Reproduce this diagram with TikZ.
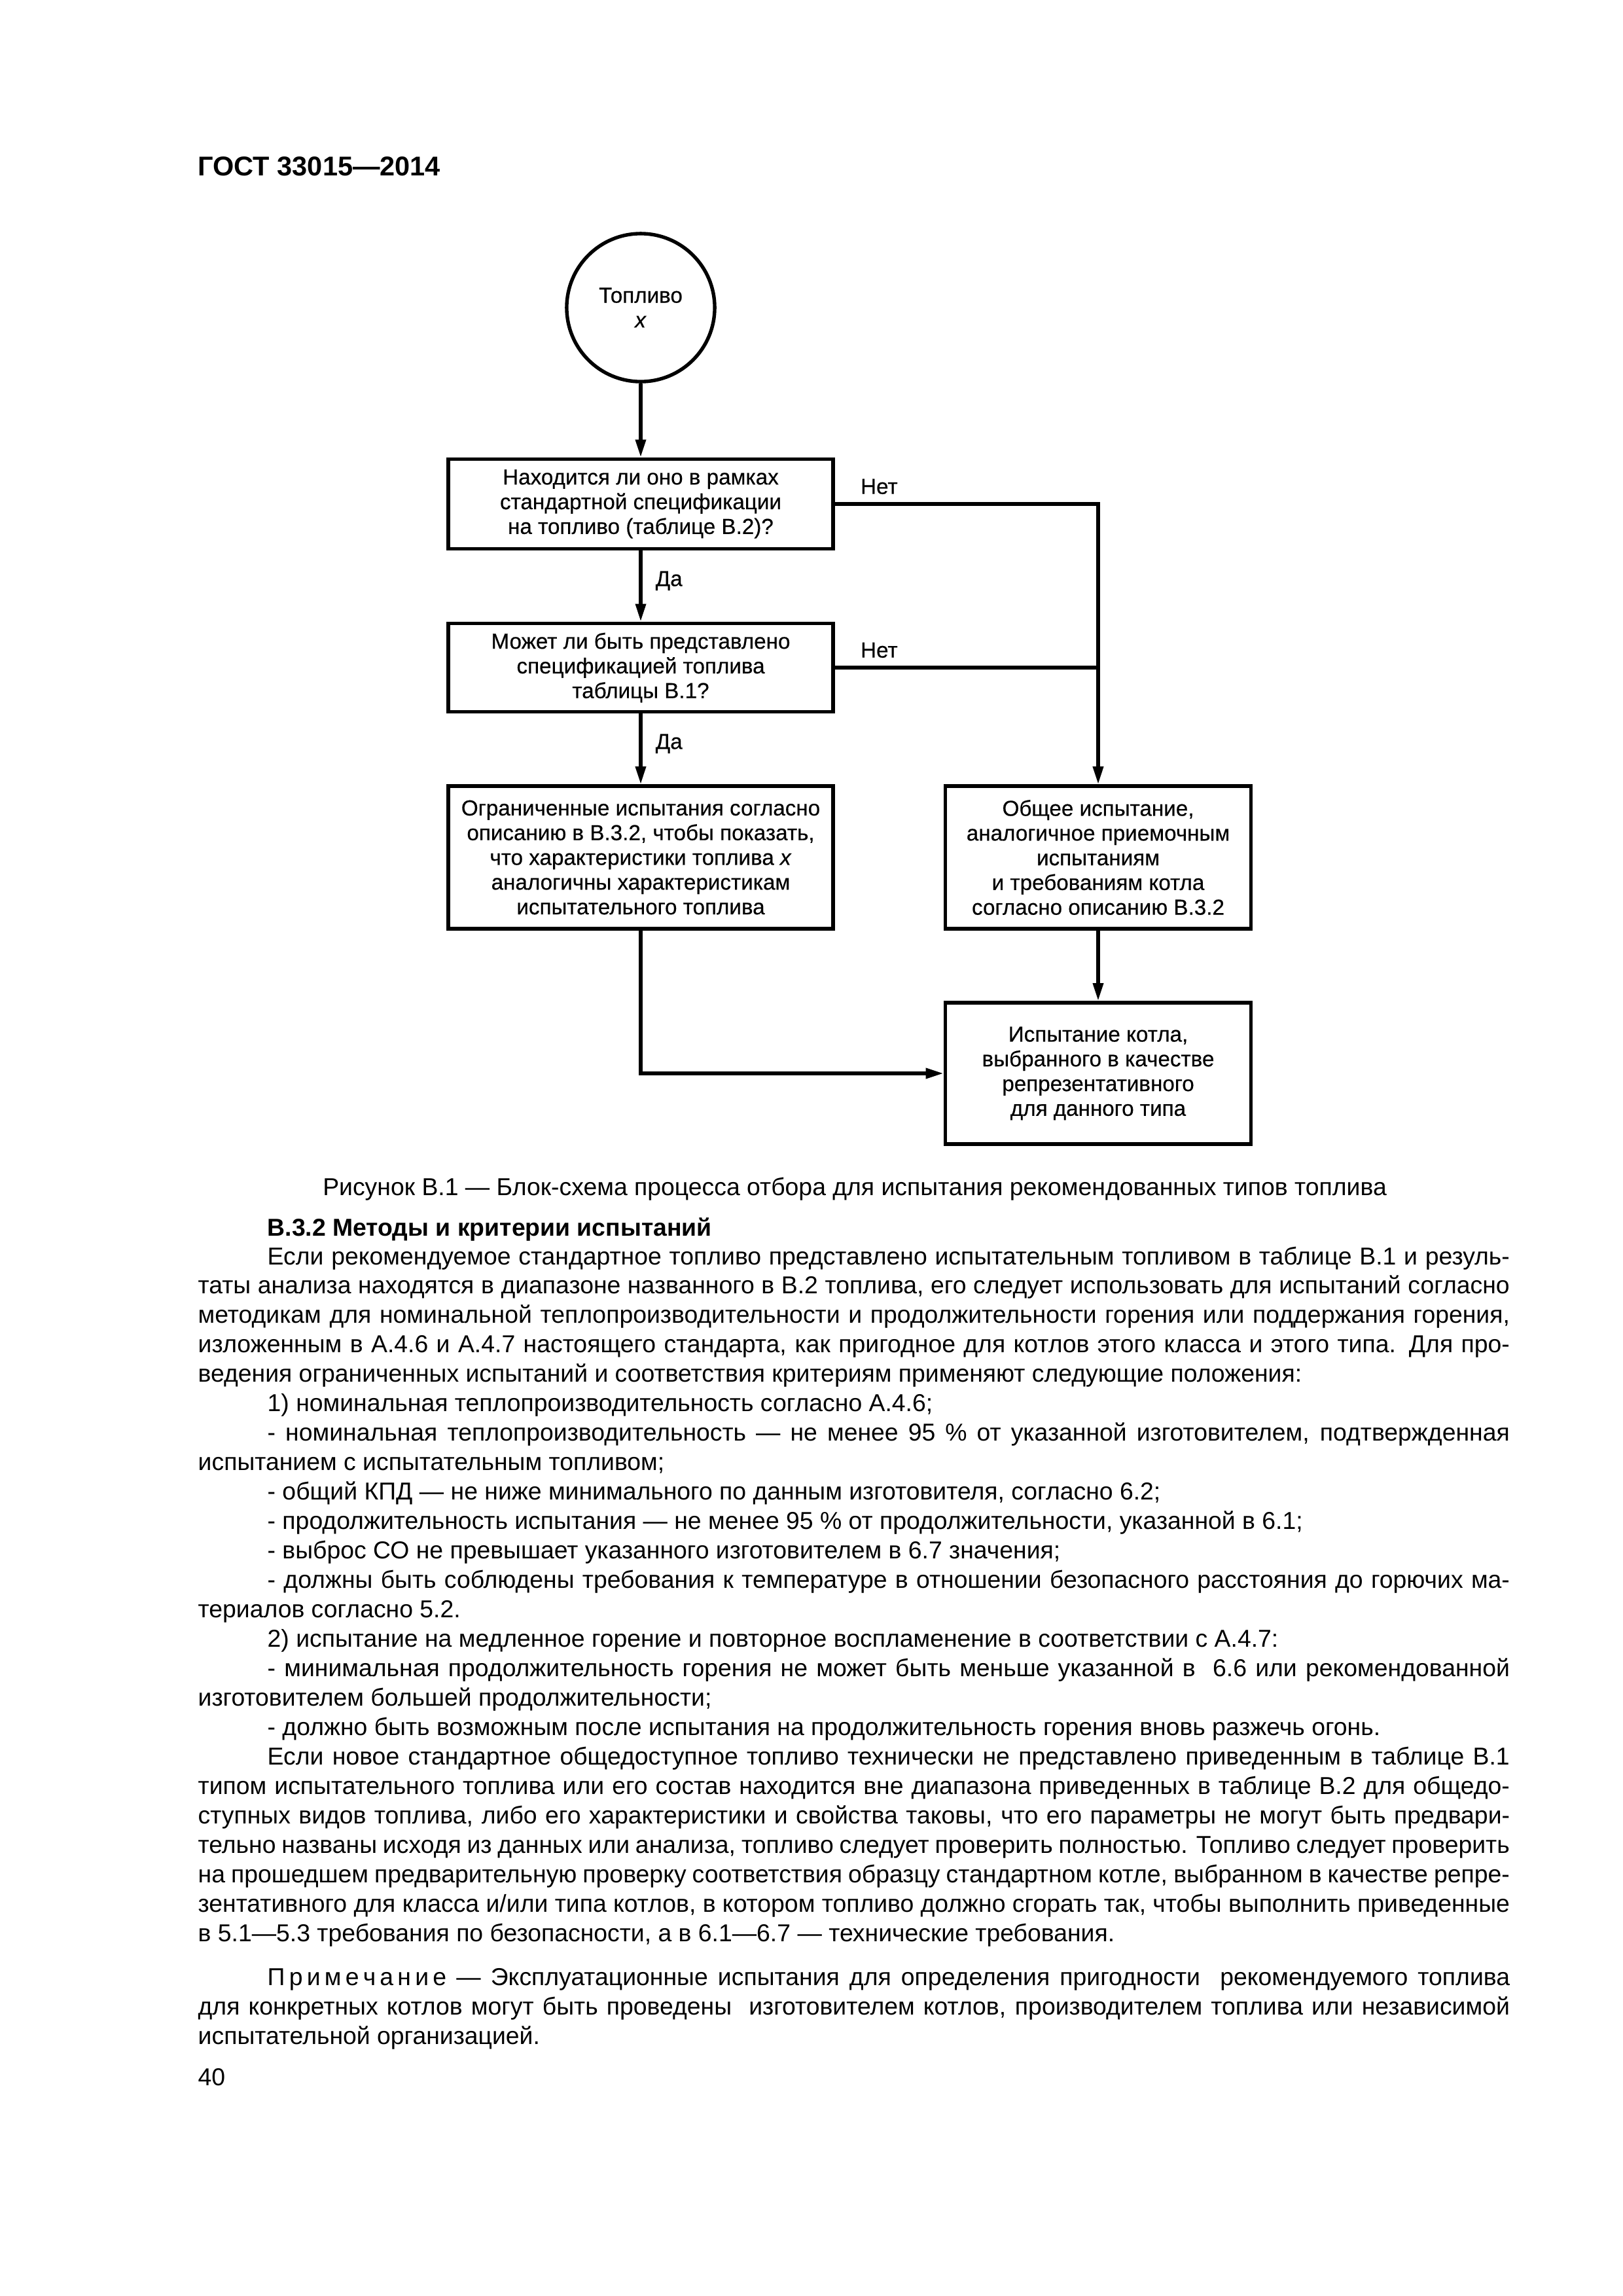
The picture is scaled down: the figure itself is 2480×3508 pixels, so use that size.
\documentclass[tikz,border=0pt]{standalone}
\usepackage{fontspec}
\setmainfont{Liberation Sans}
\newfontfamily\diagfont{Liberation Sans}[FakeBold=0.4]
\usetikzlibrary{arrows.meta}
\usetikzlibrary{positioning}
\newlength{\pxu}
\setlength{\pxu}{0.0846774mm}
\newcommand{\ind}{\hspace*{106\pxu}}
\tolerance=10000
\hyphenpenalty=10000

\begin{document}
\begin{tikzpicture}[x=0.0846774mm,y=-0.0846774mm,->,>={Triangle[length=2.3mm,width=1.3mm]},
    line width=1.3pt,
    box node/.style={rectangle,draw,line width=1.3pt,inner sep=0pt,align=center,font=\diagfont\fontsize{8}{9.1}\selectfont},
    round node/.style={circle,draw,line width=1.3pt,inner sep=0pt,minimum size=19.15mm,align=center,font=\diagfont\fontsize{8}{9.1}\selectfont},
    small text/.style={inner sep=0pt,font=\diagfont\fontsize{8}{9.1}\selectfont},
    body text/.style={inner sep=0pt,anchor=base west,font=\fontsize{9}{10.83}\selectfont}]
  \path[fill=white] (0,0) rectangle (2480,3508);
  \node[inner sep=0pt,anchor=base west,font=\fontsize{10}{12}\selectfont\bfseries] (head) at (300,268) {ГОСТ 33015—2014};

  % blocks
  \node[round node] (fuel) at (979,470) {Топливо\\\textit{x}};
  \node[box node,minimum width=49.8mm,minimum height=11.6mm] (q1) at (979,770) {Находится ли оно в рамках\\стандартной спецификации\\на топливо (таблице В.2)?};
  \node[box node,minimum width=49.8mm,minimum height=11.45mm] (q2) at (979,1020) {Может ли быть представлено\\спецификацией топлива\\таблицы В.1?};
  \node[box node,minimum width=49.8mm,minimum height=18.45mm] (lim) at (979,1310) {Ограниченные испытания согласно\\описанию в В.3.2, чтобы показать,\\что характеристики топлива \textit{x}\\аналогичны характеристикам\\испытательного топлива};
  \node[box node,minimum width=39.55mm,minimum height=18.45mm] (gen) at (1678,1310) {Общее испытание,\\аналогичное приемочным\\испытаниям\\и требованиям котла\\согласно описанию В.3.2};
  \node[box node,minimum width=39.55mm,minimum height=18.3mm] (boil) at (1678,1640) {Испытание котла,\\выбранного в качестве\\репрезентативного\\для данного типа};

  % connectors
  \path (fuel) edge (q1);
  \path (q1) edge node[small text,anchor=base west,xshift=1.7mm] (yes1) {Да} (q2);
  \path (q2) edge node[small text,anchor=base west,xshift=1.7mm] (yes2) {Да} (lim);
  \draw (q1.east) -| (gen.north);
  \path[-] (q2.east) edge (q2.east -| gen.north);
  \path (gen) edge (boil);
  \draw (lim.south) |- (boil.west);
  \node[small text,anchor=base west] (no1) at ([xshift=3.1mm,yshift=1.3mm]q1.east) {Нет};
  \node[small text,anchor=base west] (no2) at ([xshift=3.1mm,yshift=1.3mm]q2.east) {Нет};

  % text
  \node[body text,anchor=base] (cap) at (1306,1826) {Рисунок В.1 — Блок-схема процесса отбора для испытания рекомендованных типов топлива};
  \node[body text,font=\fontsize{9}{10.83}\selectfont\bfseries] (sec) at (406,1888) {В.3.2 Методы и критерии испытаний};
  \node[body text,text width=169.7mm,align=justify] (txt) at (300,1932) {%
\ind Если рекомендуемое стандартное топливо представлено испытательным топливом в таблице В.1 и резуль-\linebreak
таты анализа находятся в диапазоне названного в В.2 топлива, его следует использовать для испытаний согласно\linebreak
методикам для номинальной теплопроизводительности и продолжительности горения или поддержания горения,\linebreak
изложенным в А.4.6 и А.4.7 настоящего стандарта, как пригодное для котлов этого класса и этого типа. Для про-\linebreak
ведения ограниченных испытаний и соответствия критериям применяют следующие положения:\par
\ind 1) номинальная теплопроизводительность согласно А.4.6;\par
\ind - номинальная теплопроизводительность — не менее 95~\% от указанной изготовителем, подтвержденная\linebreak
испытанием с испытательным топливом;\par
\ind - общий КПД — не ниже минимального по данным изготовителя, согласно 6.2;\par
\ind - продолжительность испытания — не менее 95~\% от продолжительности, указанной в 6.1;\par
\ind - выброс СО не превышает указанного изготовителем в 6.7 значения;\par
\ind - должны быть соблюдены требования к температуре в отношении безопасного расстояния до горючих ма-\linebreak
териалов согласно 5.2.\par
\ind 2) испытание на медленное горение и повторное воспламенение в соответствии с А.4.7:\par
\ind - минимальная продолжительность горения не может быть меньше указанной в~ 6.6 или рекомендованной\linebreak
изготовителем большей продолжительности;\par
\ind - должно быть возможным после испытания на продолжительность горения вновь разжечь огонь.\par
\ind Если новое стандартное общедоступное топливо технически не представлено приведенным в таблице В.1\linebreak
типом испытательного топлива или его состав находится вне диапазона приведенных в таблице В.2 для общедо-\linebreak
ступных видов топлива, либо его характеристики и свойства таковы, что его параметры не могут быть предвари-\linebreak
тельно названы исходя из данных или анализа, топливо следует проверить полностью. Топливо следует проверить\linebreak
на прошедшем предварительную проверку соответствия образцу стандартном котле, выбранном в качестве репре-\linebreak
зентативного для класса и/или типа котлов, в котором топливо должно сгорать так, чтобы выполнить приведенные\linebreak
в 5.1—5.3 требования по безопасности, а в 6.1—6.7 — технические требования.\par
\vspace{5.4pt}
\ind П\,р\,и\,м\,е\,ч\,а\,н\,и\,е — Эксплуатационные испытания для определения пригодности~ рекомендуемого топлива\linebreak
для конкретных котлов могут быть проведены~ изготовителем котлов, производителем топлива или независимой\linebreak
испытательной организацией.};
  \node[body text] (page) at (300,3186) {40};
\end{tikzpicture}
\end{document}
